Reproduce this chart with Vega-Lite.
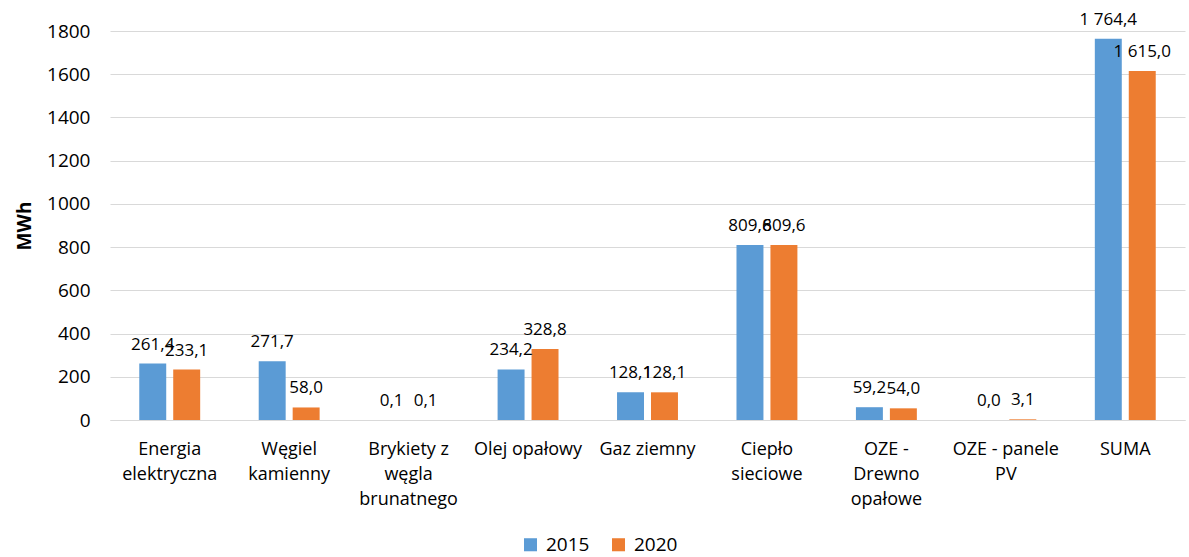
{
  "$schema": "https://vega.github.io/schema/vega-lite/v6.json",
  "width": 1075,
  "height": 389,
  "autosize": {"type": "none"},
  "padding": {"left": 110, "top": 31, "right": 4, "bottom": 137},
  "background": "#ffffff",
  "config": {
    "locale": {"number": {"decimal": ",", "thousands": " ", "grouping": [3], "currency": ["", ""]}},
    "view": {"stroke": null},
    "font": "Open Sans"
  },
  "data": {
    "values": [
      {"kategoria": "Energia|elektryczna", "rok": "2015", "wartosc": 261.4},
      {"kategoria": "Energia|elektryczna", "rok": "2020", "wartosc": 233.1},
      {"kategoria": "Węgiel|kamienny", "rok": "2015", "wartosc": 271.7},
      {"kategoria": "Węgiel|kamienny", "rok": "2020", "wartosc": 58.0},
      {"kategoria": "Brykiety z|węgla|brunatnego", "rok": "2015", "wartosc": 0.1},
      {"kategoria": "Brykiety z|węgla|brunatnego", "rok": "2020", "wartosc": 0.1},
      {"kategoria": "Olej opałowy", "rok": "2015", "wartosc": 234.2},
      {"kategoria": "Olej opałowy", "rok": "2020", "wartosc": 328.8},
      {"kategoria": "Gaz ziemny", "rok": "2015", "wartosc": 128.1},
      {"kategoria": "Gaz ziemny", "rok": "2020", "wartosc": 128.1},
      {"kategoria": "Ciepło|sieciowe", "rok": "2015", "wartosc": 809.6},
      {"kategoria": "Ciepło|sieciowe", "rok": "2020", "wartosc": 809.6},
      {"kategoria": "OZE -|Drewno|opałowe", "rok": "2015", "wartosc": 59.2},
      {"kategoria": "OZE -|Drewno|opałowe", "rok": "2020", "wartosc": 54.0},
      {"kategoria": "OZE - panele|PV", "rok": "2015", "wartosc": 0.0},
      {"kategoria": "OZE - panele|PV", "rok": "2020", "wartosc": 3.1},
      {"kategoria": "SUMA", "rok": "2015", "wartosc": 1764.4},
      {"kategoria": "SUMA", "rok": "2020", "wartosc": 1615.0}
    ]
  },
  "encoding": {
    "x": {
      "field": "kategoria",
      "type": "nominal",
      "sort": null,
      "scale": {"paddingInner": 0.49, "paddingOuter": 0.245},
      "axis": {
        "title": null,
        "labelAngle": 0,
        "ticks": false,
        "domainColor": "#d9d9d9",
        "domainWidth": 1,
        "labelFontSize": 18,
        "labelColor": "#000000",
        "labelPadding": 20,
        "labelLineHeight": 25,
        "labelExpr": "split(datum.label, '|')"
      }
    },
    "xOffset": {
      "field": "rok",
      "type": "nominal",
      "scale": {"paddingInner": 0.206, "paddingOuter": 0}
    },
    "y": {
      "field": "wartosc",
      "type": "quantitative",
      "scale": {"domain": [0, 1800], "nice": false},
      "axis": {
        "title": "MWh",
        "titleFontSize": 19,
        "titleFontWeight": "bold",
        "titleColor": "#000000",
        "titlePadding": 12,
        "ticks": false,
        "domain": false,
        "grid": true,
        "gridColor": "#d9d9d9",
        "values": [0, 200, 400, 600, 800, 1000, 1200, 1400, 1600, 1800],
        "format": "d",
        "labelFontSize": 19,
        "labelColor": "#000000",
        "labelPadding": 20
      }
    }
  },
  "layer": [
    {
      "mark": {"type": "bar"},
      "encoding": {
        "color": {
          "field": "rok",
          "type": "nominal",
          "scale": {"range": ["#5B9BD5", "#ED7D31"]},
          "legend": {
            "orient": "none",
            "legendX": 411,
            "legendY": 504,
            "direction": "horizontal",
            "title": null,
            "symbolType": "square",
            "symbolSize": 170,
            "symbolStrokeWidth": 0,
            "labelFontSize": 19,
            "labelColor": "#000000",
            "labelOffset": 6,
            "columnPadding": 19
          }
        }
      }
    },
    {
      "mark": {"type": "text", "baseline": "alphabetic", "dy": -14, "fontSize": 17, "color": "#000000"},
      "encoding": {
        "text": {"field": "wartosc", "type": "quantitative", "format": ",.1f"}
      }
    }
  ]
}
